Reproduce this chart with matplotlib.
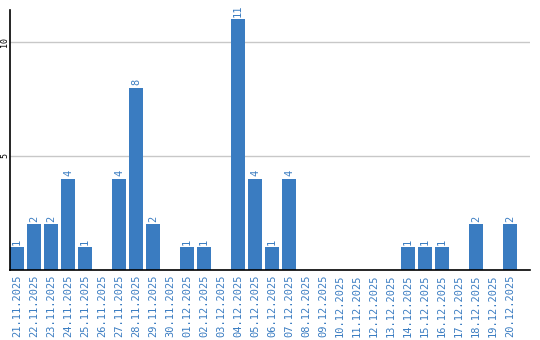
import matplotlib
matplotlib.use("Agg")
from matplotlib import pyplot as plt

dates = ["21.11.2025", "22.11.2025", "23.11.2025", "24.11.2025", "25.11.2025",
         "26.11.2025", "27.11.2025", "28.11.2025", "29.11.2025", "30.11.2025",
         "01.12.2025", "02.12.2025", "03.12.2025", "04.12.2025", "05.12.2025",
         "06.12.2025", "07.12.2025", "08.12.2025", "09.12.2025", "10.12.2025",
         "11.12.2025", "12.12.2025", "13.12.2025", "14.12.2025", "15.12.2025",
         "16.12.2025", "17.12.2025", "18.12.2025", "19.12.2025", "20.12.2025"]
counts = [1, 2, 2, 4, 1, 0, 4, 8, 2, 0,
          1, 1, 0, 11, 4, 1, 4, 0, 0, 0,
          0, 0, 0, 1, 1, 1, 0, 2, 0, 2]

blue = "#3a7cc1"
mono = "DejaVu Sans Mono"

fig = plt.figure(figsize=(5.4, 3.4), dpi=100)
ax = fig.add_axes([10 / 540, 70 / 340, 520 / 540, 260 / 340])

x = list(range(len(dates)))
ax.bar(x, counts, width=0.82, color=blue, zorder=2)

# value labels above bars
for i, v in zip(x, counts):
    if v > 0:
        ax.text(i, v + 0.1, str(v), rotation=90, ha="center", va="bottom",
                color=blue, fontsize=7.5, family=mono)

ax.set_xlim(-0.41, 30.18)
ax.set_ylim(0, 11.4)
ax.set_yticks([5, 10])
ax.set_yticklabels(["5", "10"], rotation=90, va="center", ha="center",
                   fontsize=6, family=mono)
ax.yaxis.grid(True, color="#c8c8c8", linewidth=1, zorder=0)

ax.set_xticks(x)
ax.set_xticklabels(dates, rotation=90, color=blue, fontsize=7.5, family=mono)
ax.tick_params(axis="both", length=0, pad=3)
ax.tick_params(axis="y", pad=4)

for s in ["top", "right"]:
    ax.spines[s].set_visible(False)
ax.spines["left"].set_linewidth(1.2)
ax.spines["bottom"].set_linewidth(1.2)

fig.savefig("out.png", dpi=100)
